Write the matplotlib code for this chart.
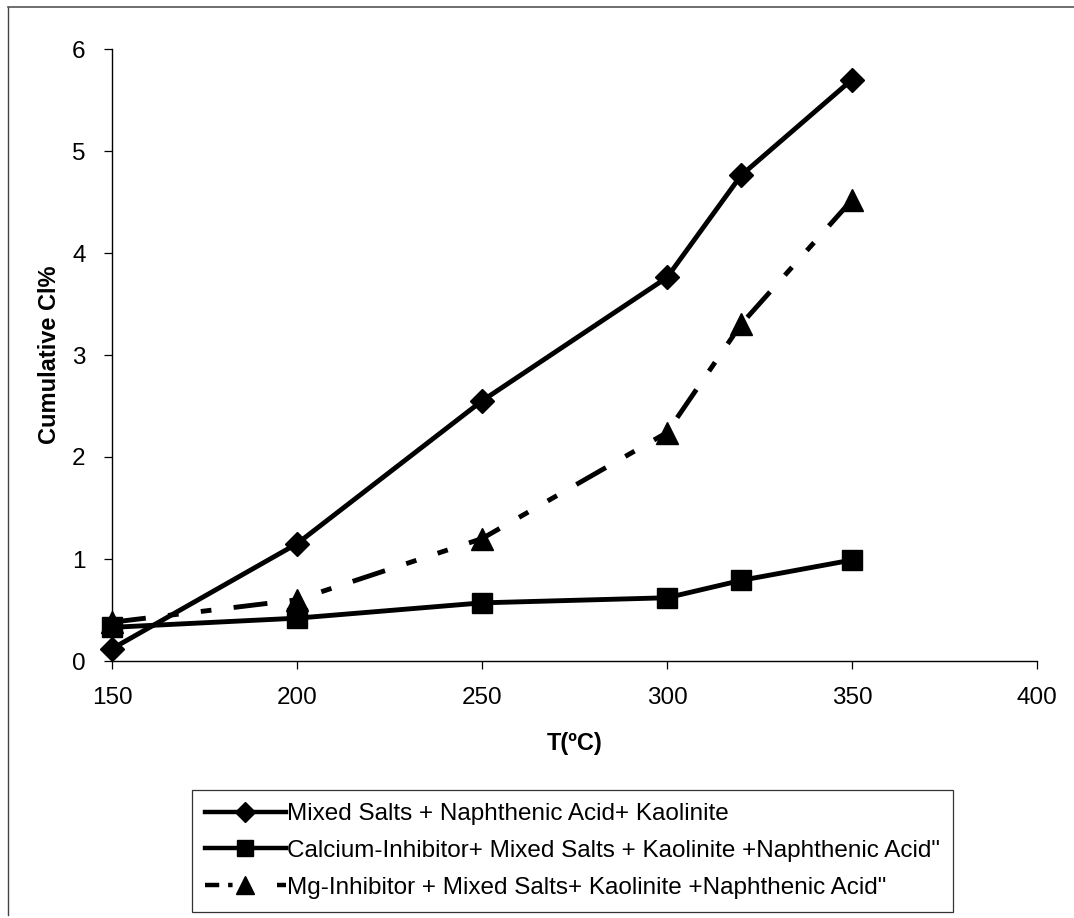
import matplotlib
matplotlib.use("Agg")
import matplotlib.pyplot as plt
from matplotlib.lines import Line2D

plt.rcParams['font.family'] = ['Liberation Sans', 'DejaVu Sans']

# Temperatures (°C) and cumulative chloride release (%)
temp_mixed = [150, 200, 250, 300, 320, 350]
cl_mixed = [0.12, 1.15, 2.55, 3.76, 4.76, 5.70]

temp_ca = [150, 200, 250, 300, 320, 350]
cl_ca = [0.33, 0.42, 0.57, 0.62, 0.79, 0.99]

temp_mg = [150, 200, 250, 300, 320, 350]
cl_mg = [0.38, 0.60, 1.20, 2.24, 3.30, 4.52]

labels = [
    "Mixed Salts + Naphthenic Acid+ Kaolinite",
    "Calcium-Inhibitor+ Mixed Salts + Kaolinite +Naphthenic Acid\"",
    "Mg-Inhibitor + Mixed Salts+ Kaolinite +Naphthenic Acid\"",
]
x_ticks = [150, 200, 250, 300, 350, 400]
y_ticks = [0, 1, 2, 3, 4, 5, 6]

W, H = 1074, 918
fig = plt.figure(figsize=(W / 100, H / 100), dpi=100)
ax = fig.add_axes([112 / W, 1 - 661 / H, (1037 - 112) / W, (661 - 49) / H])

lw = 3.5
dash = (0, (7.0, 4.6, 2.2, 4.6, 2.2, 4.6))
l1, = ax.plot(temp_mixed, cl_mixed, color='black', lw=lw, marker='D', ms=12.5,
              solid_joinstyle='round', clip_on=False, zorder=3)
l2, = ax.plot(temp_ca, cl_ca, color='black', lw=lw, marker='s', ms=15,
              solid_joinstyle='round', clip_on=False, zorder=3)
l3, = ax.plot(temp_mg, cl_mg, color='black', lw=lw, marker='^', ms=16,
              linestyle=dash, dash_capstyle='butt', clip_on=False, zorder=3)

ax.set_xlim(150, 400)
ax.set_ylim(0, 6)
ax.set_xticks(x_ticks)
ax.set_yticks(y_ticks)
ax.tick_params(axis='both', direction='out', length=6, width=0.9,
               labelsize=17.5, colors='black')
ax.tick_params(axis='x', pad=13)
ax.tick_params(axis='y', pad=13)
for s in ['top', 'right']:
    ax.spines[s].set_visible(False)
for s in ['left', 'bottom']:
    ax.spines[s].set_linewidth(1.0)

ax.set_xlabel("T(ºC)", fontsize=17, fontweight='bold', labelpad=16)
ax.set_ylabel("Cumulative Cl%", fontsize=17, fontweight='bold', labelpad=8)

# legend handles: short line segment with centered marker
h1 = Line2D([], [], color='black', lw=3.2, marker='D', ms=10)
h2 = Line2D([], [], color='black', lw=3.2, marker='s', ms=11)
h3 = Line2D([], [], color='black', lw=3.2, marker='^', ms=13,
            linestyle=(0, (3.2, 2.0, 1.0, 10)))
leg = fig.legend([h1, h2, h3], labels, loc='upper left',
                 bbox_to_anchor=(192 / W, 1 - 790 / H),
                 fontsize=17.5, frameon=True, fancybox=False,
                 handlelength=3.3, handletextpad=0.05, borderpad=0.55,
                 borderaxespad=0, labelspacing=0.6, edgecolor='black')
leg._legend_box.sep = 0
leg.get_frame().set_linewidth(0.9)

# outer chart border (left and top edges)
fig.add_artist(Line2D([8 / W, 8 / W], [1 - 915 / H, 1 - 7 / H],
                      transform=fig.transFigure, color='#444444', lw=1.0))
fig.add_artist(Line2D([8 / W, 1.0], [1 - 7 / H, 1 - 7 / H],
                      transform=fig.transFigure, color='#555555', lw=1.2))

fig.savefig("out.png", dpi=100)
